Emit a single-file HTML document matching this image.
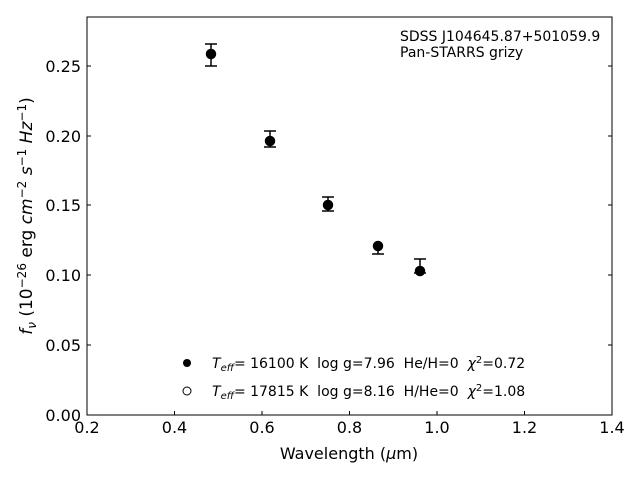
<!DOCTYPE html>
<html><head><style>body{margin:0;background:#fff}</style></head><body>
<svg width="640" height="480" xmlns="http://www.w3.org/2000/svg" font-family="DejaVu Sans, Liberation Sans, sans-serif">
<rect width="640" height="480" fill="#fff"/>
<rect x="87" y="17" width="525" height="398" fill="none" stroke="#000" stroke-width="1"/>
<g stroke="#000" stroke-width="1">
<line x1="87" y1="415" x2="87" y2="411"/><line x1="174.5" y1="415" x2="174.5" y2="411"/><line x1="262" y1="415" x2="262" y2="411"/><line x1="349.5" y1="415" x2="349.5" y2="411"/><line x1="437" y1="415" x2="437" y2="411"/><line x1="524.5" y1="415" x2="524.5" y2="411"/><line x1="612" y1="415" x2="612" y2="411"/>
<line x1="87" y1="345" x2="91" y2="345"/><line x1="87" y1="275" x2="91" y2="275"/><line x1="87" y1="205" x2="91" y2="205"/><line x1="87" y1="136" x2="91" y2="136"/><line x1="87" y1="66" x2="91" y2="66"/>
<line x1="612" y1="345" x2="608" y2="345"/><line x1="612" y1="275" x2="608" y2="275"/><line x1="612" y1="205" x2="608" y2="205"/><line x1="612" y1="136" x2="608" y2="136"/><line x1="612" y1="66" x2="608" y2="66"/>
</g>
<g font-size="16" text-anchor="middle">
<text x="87" y="433">0.2</text><text x="174.5" y="433">0.4</text><text x="262" y="433">0.6</text><text x="349.5" y="433">0.8</text><text x="437" y="433">1.0</text><text x="524.5" y="433">1.2</text><text x="612" y="433">1.4</text>
</g>
<g font-size="16" text-anchor="end">
<text x="81" y="421">0.00</text><text x="81" y="351">0.05</text><text x="81" y="281">0.10</text><text x="81" y="211">0.15</text><text x="81" y="142">0.20</text><text x="81" y="72">0.25</text>
</g>
<text x="349" y="459" font-size="16" text-anchor="middle">Wavelength (<tspan font-style="italic">μ</tspan>m)</text>
<text transform="translate(32,216) rotate(-90)" font-size="17" text-anchor="middle"><tspan font-style="italic">f<tspan font-size="12" dy="4">ν</tspan></tspan><tspan dy="-4"> (10</tspan><tspan font-size="12" dy="-6">−26</tspan><tspan dy="6"> erg </tspan><tspan font-style="italic">cm</tspan><tspan font-size="12" dy="-6">−2</tspan><tspan dy="6" font-style="italic"> s</tspan><tspan font-size="12" dy="-6">−1</tspan><tspan dy="6" font-style="italic"> Hz</tspan><tspan font-size="12" dy="-6">−1</tspan><tspan dy="6">)</tspan></text>
<text x="400" y="41" font-size="14">SDSS J104645.87+501059.9</text>
<text x="400" y="57" font-size="14">Pan-STARRS grizy</text>
<g stroke="#000" stroke-width="1.5" fill="#000">
<line x1="211" y1="44" x2="211" y2="66"/><line x1="205" y1="44" x2="217" y2="44"/><line x1="205" y1="66" x2="217" y2="66"/><circle cx="211" cy="54" r="4.5"/>
<line x1="270" y1="131" x2="270" y2="147"/><line x1="264" y1="131" x2="276" y2="131"/><line x1="264" y1="147" x2="276" y2="147"/><circle cx="270" cy="141" r="4.5"/>
<line x1="328" y1="197" x2="328" y2="211"/><line x1="322" y1="197" x2="334" y2="197"/><line x1="322" y1="211" x2="334" y2="211"/><circle cx="328" cy="205" r="4.5"/>
<line x1="378" y1="242" x2="378" y2="254"/><line x1="372" y1="254" x2="384" y2="254"/><circle cx="378" cy="246" r="4.5"/>
<line x1="420" y1="259" x2="420" y2="273"/><line x1="414" y1="259" x2="426" y2="259"/><line x1="414" y1="273" x2="426" y2="273"/><circle cx="420" cy="271" r="4.5"/>
</g>
<circle cx="187" cy="363" r="4" fill="#000"/>
<circle cx="187" cy="391" r="4" fill="none" stroke="#000"/>
<text x="212" y="368" font-size="14"><tspan font-style="italic">T<tspan font-size="10" dy="3">eff</tspan></tspan><tspan dy="-3">= 16100 K&#160;&#160;log g=7.96&#160;&#160;He/H=0&#160;&#160;</tspan><tspan font-style="italic">χ</tspan><tspan font-size="10" dy="-5">2</tspan><tspan dy="5">=0.72</tspan></text>
<text x="212" y="396" font-size="14"><tspan font-style="italic">T<tspan font-size="10" dy="3">eff</tspan></tspan><tspan dy="-3">= 17815 K&#160;&#160;log g=8.16&#160;&#160;H/He=0&#160;&#160;</tspan><tspan font-style="italic">χ</tspan><tspan font-size="10" dy="-5">2</tspan><tspan dy="5">=1.08</tspan></text>
</svg>
</body></html>
